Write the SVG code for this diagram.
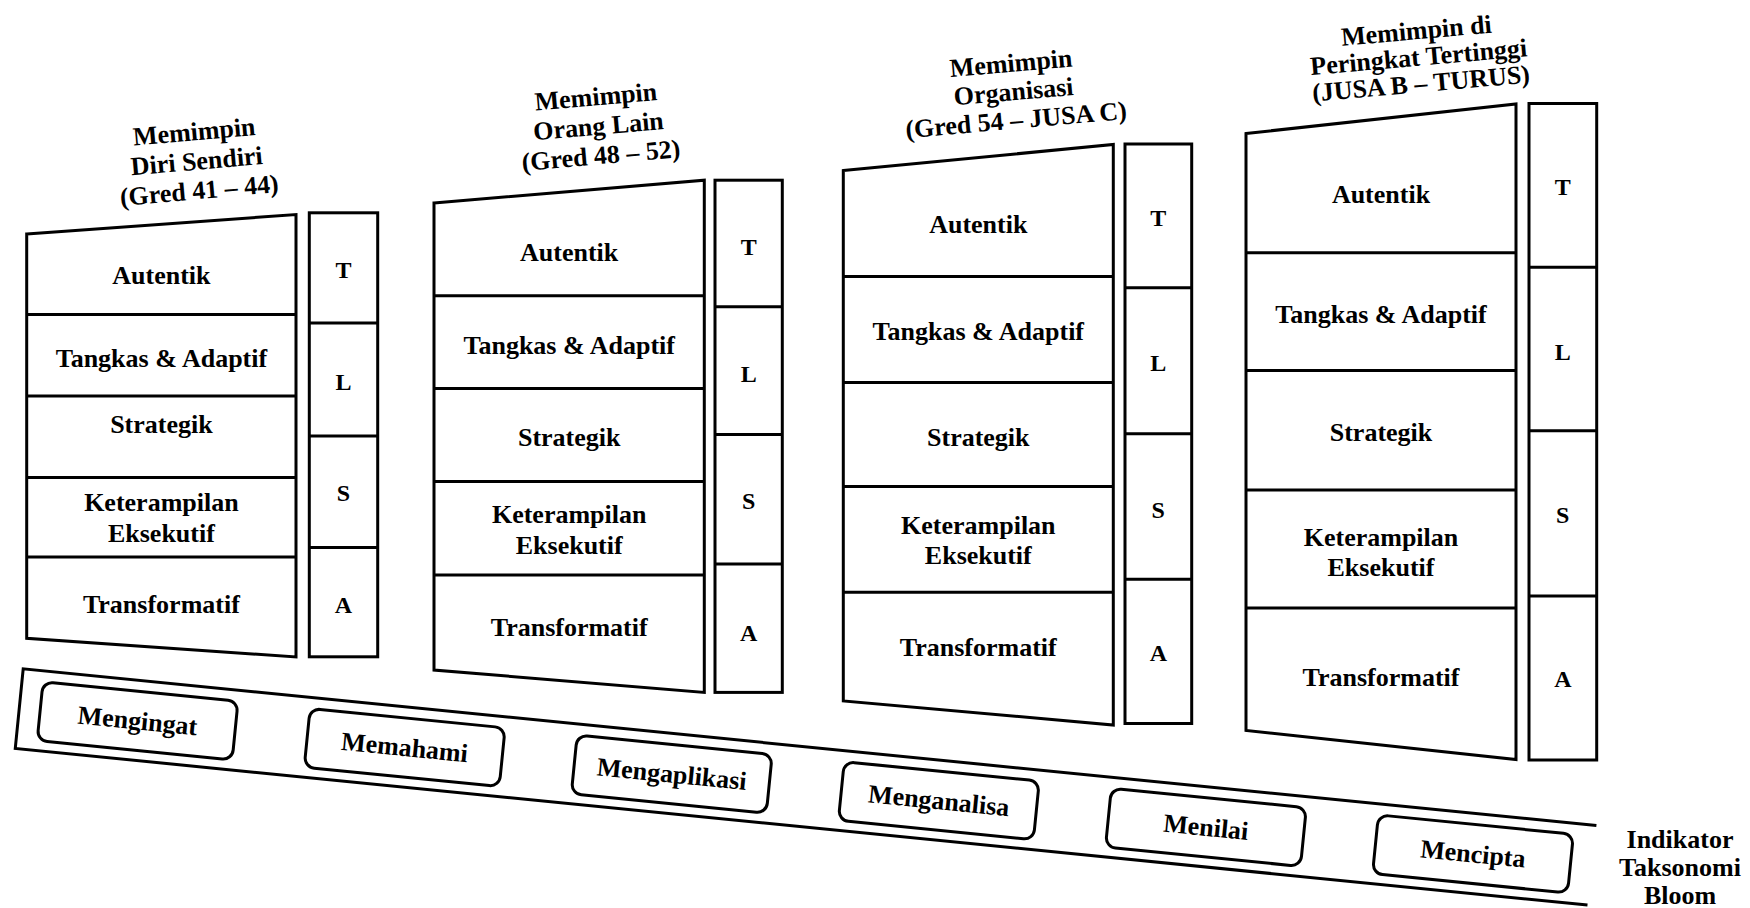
<svg xmlns="http://www.w3.org/2000/svg" width="1750" height="908" viewBox="0 0 1750 908">
  <style>
    .shape { fill: #fff; stroke: #000; stroke-width: 3; stroke-linejoin: miter; }
    .rule { fill: none; stroke: #000; stroke-width: 3; }
    .txt { font-family: "Liberation Serif", "Times New Roman", serif; font-weight: bold; font-size: 26px; text-anchor: middle; fill: #000; }
    .ltr { font-size: 24px; }
  </style>
  <rect width="1750" height="908" fill="#fff"/>

  <!-- Level 1: leading oneself -->
  <g id="level-diri-sendiri">
    <g class="txt" transform="translate(200,199) rotate(-5)">
      <text y="-59">Memimpin</text>
      <text y="-29.5">Diri Sendiri</text>
      <text y="0">(Gred 41 – 44)</text>
    </g>
    <polygon class="shape" points="26.7,234 296,214.5 296,657 26.7,638.3"/>
    <path class="rule" d="M26.7,314.6H296M26.7,396H296M26.7,477.4H296M26.7,556.9H296"/>
    <g class="txt">
      <text x="161.4" y="284">Autentik</text>
      <text x="161.4" y="366.5">Tangkas &amp; Adaptif</text>
      <text x="161.4" y="433">Strategik</text>
      <text x="161.4" y="511.4">Keterampilan</text>
      <text x="161.4" y="541.6">Eksekutif</text>
      <text x="161.4" y="612.5">Transformatif</text>
    </g>
    <rect class="shape" x="309.3" y="212.8" width="68.4" height="444"/>
    <path class="rule" d="M309.3,323H377.7M309.3,435.9H377.7M309.3,547.6H377.7"/>
    <g class="txt ltr">
      <text x="343.5" y="278">T</text>
      <text x="343.5" y="390">L</text>
      <text x="343.5" y="501">S</text>
      <text x="343.5" y="613">A</text>
    </g>
  </g>

  <!-- Level 2: leading others -->
  <g id="level-orang-lain">
    <g class="txt" transform="translate(601.7,164) rotate(-5)">
      <text y="-59">Memimpin</text>
      <text y="-29.5">Orang Lain</text>
      <text y="0">(Gred 48 – 52)</text>
    </g>
    <polygon class="shape" points="434,203 704.3,180.2 704.3,692.4 434,670"/>
    <path class="rule" d="M434,295.7H704.3M434,388.4H704.3M434,481.4H704.3M434,574.9H704.3"/>
    <g class="txt">
      <text x="569.2" y="261.4">Autentik</text>
      <text x="569.2" y="353.5">Tangkas &amp; Adaptif</text>
      <text x="569.2" y="446.4">Strategik</text>
      <text x="569.2" y="523.3">Keterampilan</text>
      <text x="569.2" y="553.5">Eksekutif</text>
      <text x="569.2" y="636.1">Transformatif</text>
    </g>
    <rect class="shape" x="715" y="180.2" width="67.3" height="512.2"/>
    <path class="rule" d="M715,306.7H782.3M715,434.5H782.3M715,563.9H782.3"/>
    <g class="txt ltr">
      <text x="748.7" y="254.5">T</text>
      <text x="748.7" y="382">L</text>
      <text x="748.7" y="509">S</text>
      <text x="748.7" y="640.5">A</text>
    </g>
  </g>

  <!-- Level 3: leading the organisation -->
  <g id="level-organisasi">
    <g class="txt" transform="translate(1016.7,128.5) rotate(-5)">
      <text y="-57">Memimpin</text>
      <text y="-28.5">Organisasi</text>
      <text y="0">(Gred 54 – JUSA C)</text>
    </g>
    <polygon class="shape" points="843.3,170.5 1113.3,144.5 1113.3,725 843.3,701"/>
    <path class="rule" d="M843.3,276.6H1113.3M843.3,382.4H1113.3M843.3,486.4H1113.3M843.3,592.2H1113.3"/>
    <g class="txt">
      <text x="978.3" y="233.4">Autentik</text>
      <text x="978.3" y="340.3">Tangkas &amp; Adaptif</text>
      <text x="978.3" y="445.9">Strategik</text>
      <text x="978.3" y="533.5">Keterampilan</text>
      <text x="978.3" y="564.2">Eksekutif</text>
      <text x="978.3" y="656.2">Transformatif</text>
    </g>
    <rect class="shape" x="1125" y="144" width="66.7" height="579.5"/>
    <path class="rule" d="M1125,287.8H1191.7M1125,433.8H1191.7M1125,579.3H1191.7"/>
    <g class="txt ltr">
      <text x="1158.3" y="225.5">T</text>
      <text x="1158.3" y="371">L</text>
      <text x="1158.3" y="518">S</text>
      <text x="1158.3" y="661">A</text>
    </g>
  </g>

  <!-- Level 4: leading at the top -->
  <g id="level-tertinggi">
    <g class="txt" transform="translate(1421.7,92) rotate(-5)">
      <text y="-53">Memimpin di</text>
      <text y="-26.5">Peringkat Tertinggi</text>
      <text y="0">(JUSA B – TURUS)</text>
    </g>
    <polygon class="shape" points="1246,133.5 1516,104 1516,759.5 1246,730.5"/>
    <path class="rule" d="M1246,252.7H1516M1246,370.6H1516M1246,490H1516M1246,608H1516"/>
    <g class="txt">
      <text x="1381" y="203">Autentik</text>
      <text x="1381" y="322.5">Tangkas &amp; Adaptif</text>
      <text x="1381" y="441.4">Strategik</text>
      <text x="1381" y="545.5">Keterampilan</text>
      <text x="1381" y="576.1">Eksekutif</text>
      <text x="1381" y="685.5">Transformatif</text>
    </g>
    <rect class="shape" x="1529" y="103.5" width="67.7" height="656.5"/>
    <path class="rule" d="M1529,267.2H1596.7M1529,430.8H1596.7M1529,596H1596.7"/>
    <g class="txt ltr">
      <text x="1562.8" y="195">T</text>
      <text x="1562.8" y="360">L</text>
      <text x="1562.8" y="523">S</text>
      <text x="1562.8" y="687">A</text>
    </g>
  </g>

  <!-- Bloom taxonomy band -->
  <g id="bloom-band" transform="translate(23.2,668.8) rotate(5.69)">
    <path class="rule" d="M1581,0H0V80H1580"/>
    <g id="bloom-mengingat">
      <rect class="shape" x="21" y="11" width="196" height="59" rx="10"/>
      <text class="txt" x="119" y="49">Mengingat</text>
    </g>
    <g id="bloom-memahami">
      <rect class="shape" x="289.4" y="11" width="196" height="59" rx="10"/>
      <text class="txt" x="387.4" y="49">Memahami</text>
    </g>
    <g id="bloom-mengaplikasi">
      <rect class="shape" x="557.8" y="11" width="196" height="59" rx="10"/>
      <text class="txt" x="655.8" y="49">Mengaplikasi</text>
    </g>
    <g id="bloom-menganalisa">
      <rect class="shape" x="826.2" y="11" width="196" height="59" rx="10"/>
      <text class="txt" x="924.2" y="49">Menganalisa</text>
    </g>
    <g id="bloom-menilai">
      <rect class="shape" x="1094.6" y="11" width="196" height="59" rx="10"/>
      <text class="txt" x="1192.6" y="49">Menilai</text>
    </g>
    <g id="bloom-mencipta">
      <rect class="shape" x="1363" y="11" width="196" height="59" rx="10"/>
      <text class="txt" x="1461" y="49">Mencipta</text>
    </g>
  </g>

  <g id="bloom-label" class="txt">
    <text x="1680" y="847.5">Indikator</text>
    <text x="1680" y="876">Taksonomi</text>
    <text x="1680" y="903.5">Bloom</text>
  </g>
</svg>
